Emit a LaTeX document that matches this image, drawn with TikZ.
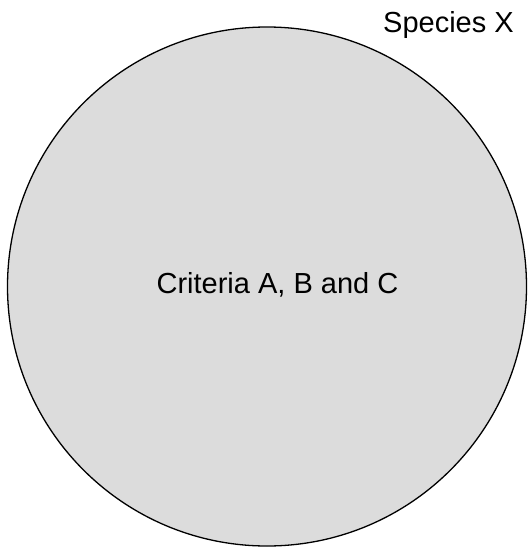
\documentclass[tikz,border=0pt]{standalone}
\usepackage{fontspec}
\setmainfont{Liberation Sans}
\definecolor{circfill}{RGB}{220,220,220}
\begin{document}
\begin{tikzpicture}[x=1pt,y=-1pt,
  setcircle/.style={circle,draw=black,line width=1.3pt,fill=circfill,minimum size=519pt,inner sep=0pt},
  labeltext/.style={font=\fontsize{29}{34}\selectfont,inner sep=0pt,anchor=base}]
\useasboundingbox (0,0) rectangle (529,549);
\node[setcircle] (c) at (267,286.5) {};
\node[labeltext] (t) at (277.5,293) {Criteria A, B and C};
\node[labeltext] (s) at (448.5,32) {Species X};
\end{tikzpicture}
\end{document}
